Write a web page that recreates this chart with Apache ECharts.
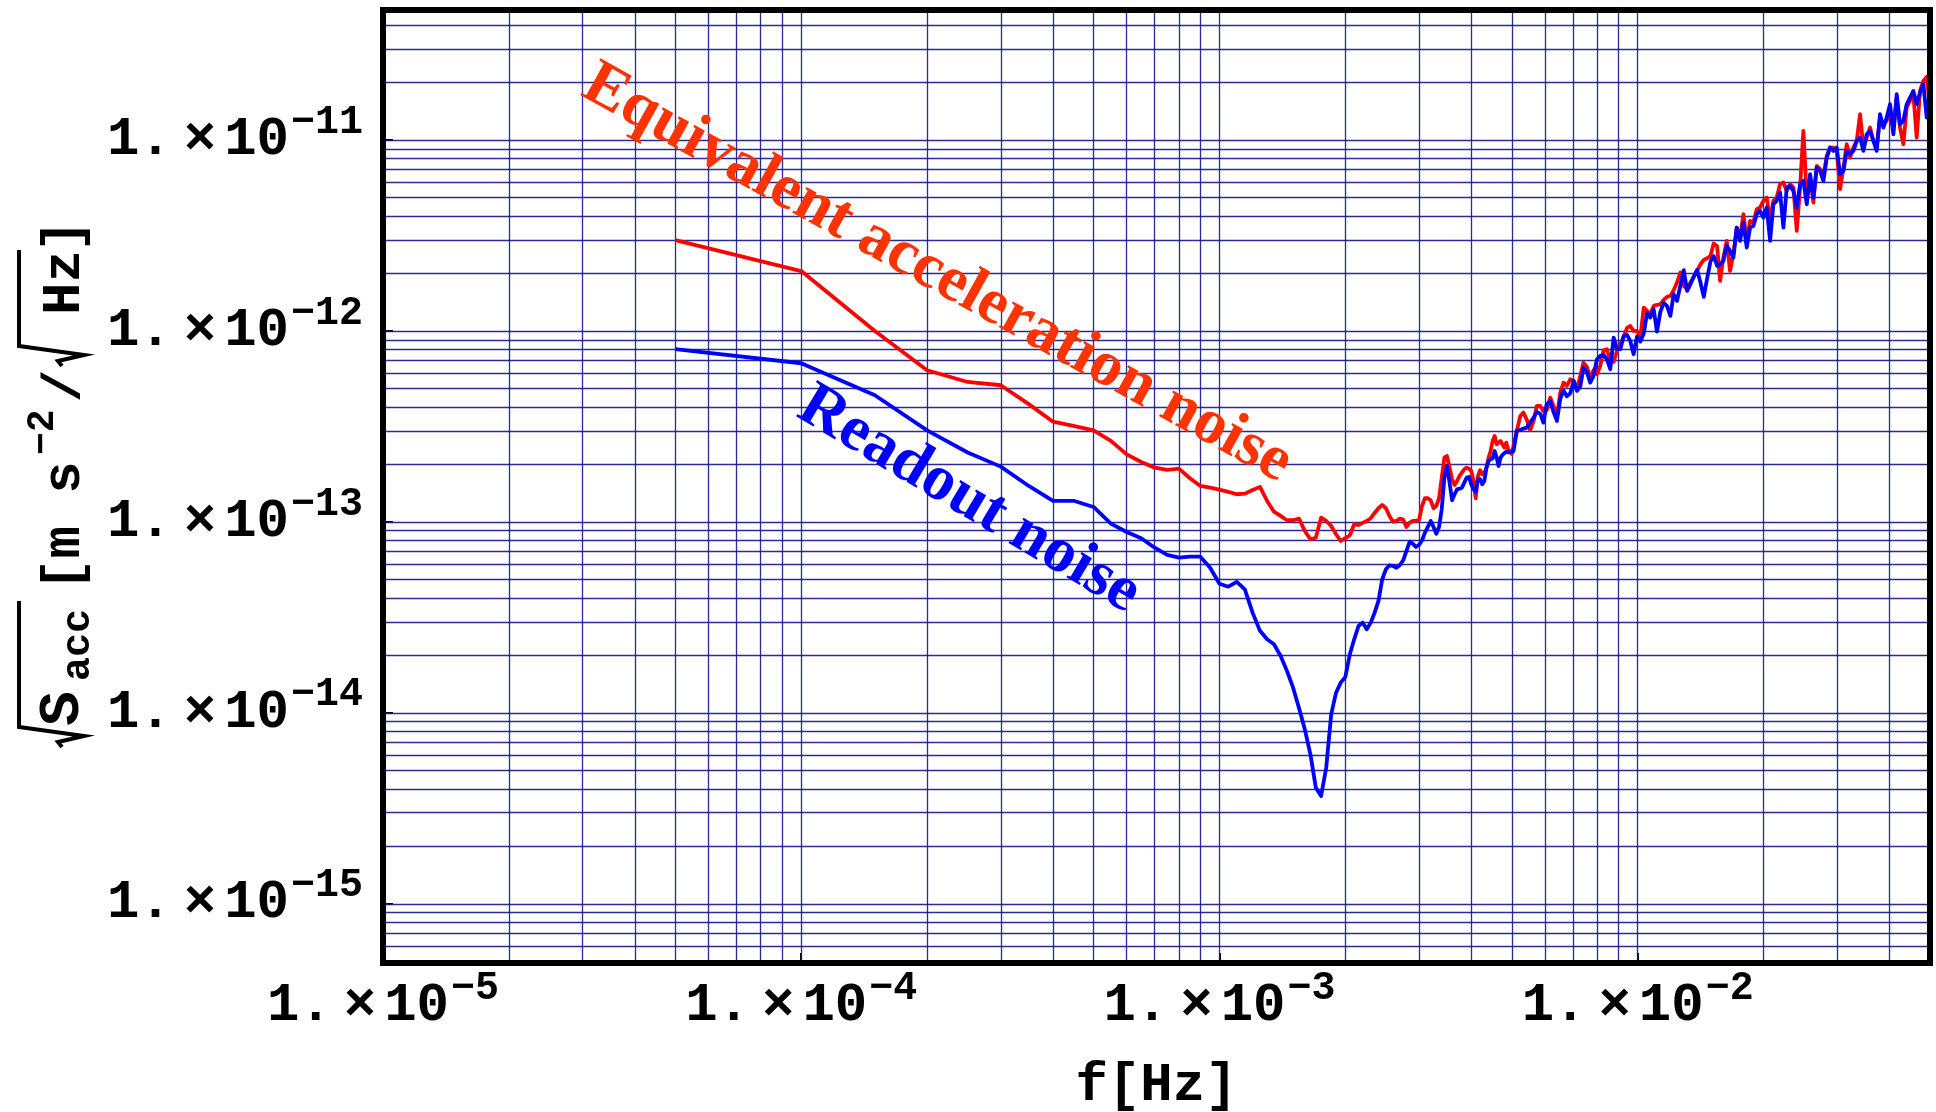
<!DOCTYPE html>
<html>
<head>
<meta charset="utf-8">
<title>Acceleration noise spectrum</title>
<script src="https://cdn.jsdelivr.net/npm/echarts@6/dist/echarts.min.js"></script>
<style>
  html, body { margin: 0; padding: 0; background: #ffffff; }
  #chart { width: 1936px; height: 1112px; }
</style>
</head>
<body>
<div id="chart"></div>
<script>
// Frequencies in mHz; amplitudes in units of 1e-13 m s^-2 / sqrt(Hz).
// Low band: 0.05 mHz frequency bins up to 5 mHz.
const freqLow = [
  0.05, 0.10, 0.15, 0.20, 0.25, 0.30, 0.35, 0.40, 0.45, 0.50,
  0.55, 0.60, 0.65, 0.70, 0.75, 0.80, 0.85, 0.90, 0.95, 1.00,
  1.05, 1.10, 1.15, 1.20, 1.25, 1.30, 1.35, 1.40, 1.45, 1.50,
  1.55, 1.60, 1.65, 1.70, 1.75, 1.80, 1.85, 1.90, 1.95, 2.00,
  2.05, 2.10, 2.15, 2.20, 2.25, 2.30, 2.35, 2.40, 2.45, 2.50,
  2.55, 2.60, 2.65, 2.70, 2.75, 2.80, 2.85, 2.90, 2.95, 3.00,
  3.05, 3.10, 3.15, 3.20, 3.25, 3.30, 3.35, 3.40, 3.45, 3.50,
  3.55, 3.60, 3.65, 3.70, 3.75, 3.80, 3.85, 3.90, 3.95, 4.00,
  4.05, 4.10, 4.15, 4.20, 4.25, 4.30, 4.35, 4.40, 4.45, 4.50,
  4.55, 4.60, 4.65, 4.70, 4.75, 4.80, 4.85, 4.90, 4.95, 5.00
];
const accelLow = [
  29.9, 20.6, 10.0, 6.23, 5.41, 5.20, 4.14, 3.35, 3.18, 3.02,
  2.66, 2.26, 2.06, 1.925, 1.873, 1.902, 1.694, 1.544, 1.512, 1.476,
  1.436, 1.397, 1.407, 1.471, 1.525, 1.288, 1.132, 1.075, 1.021, 1.021,
  1.041, 0.897, 0.812, 0.827, 1.053, 1.012, 0.953, 0.862, 0.795, 0.822,
  0.852, 0.973, 0.964, 0.989, 1.012, 1.046, 1.115, 1.180, 1.228, 1.180,
  1.075, 1.004, 1.012, 1.041, 1.028, 0.942, 0.992, 1.012, 1.012, 1.021,
  1.213, 1.331, 1.331, 1.299, 1.180, 1.213, 1.331, 1.706, 2.172, 2.216,
  1.925, 1.674, 1.563, 1.640, 1.742, 1.813, 1.888, 1.925, 1.902, 1.850,
  1.640, 1.331, 1.742, 1.866, 1.778, 1.813, 1.925, 2.172, 2.354, 2.657,
  2.822, 2.553, 2.603, 2.657, 2.553, 2.450, 2.603, 2.403, 2.354, 2.271
];
const readoutLow = [
  8.03, 6.78, 4.61, 3.02, 2.31, 1.949, 1.544, 1.288, 1.288, 1.198,
  0.980, 0.886, 0.822, 0.733, 0.672, 0.650, 0.658, 0.658, 0.576, 0.475,
  0.458, 0.485, 0.444, 0.335, 0.269, 0.243, 0.229, 0.199, 0.166, 0.1355,
  0.1057, 0.0820, 0.0607, 0.0406, 0.0367, 0.0516, 0.0983, 0.1276, 0.144, 0.1542,
  0.2028, 0.243, 0.285, 0.297, 0.274, 0.297, 0.335, 0.386, 0.501, 0.565,
  0.593, 0.588, 0.576, 0.595, 0.630, 0.705, 0.789, 0.770, 0.740, 0.758,
  0.802, 0.879, 0.942, 1.012, 0.942, 0.868, 0.942, 1.166, 1.706, 1.965,
  1.606, 1.299, 1.397, 1.483, 1.494, 1.512, 1.606, 1.706, 1.721, 1.576,
  1.483, 1.441, 1.674, 1.674, 1.576, 1.640, 1.925, 2.087, 2.130, 2.156,
  2.354, 2.172, 1.965, 2.172, 2.244, 2.260, 2.335, 2.307, 2.310, 2.360
];

// High band: 5 mHz to 50 mHz.
const freqHigh = [
  5.05, 5.14, 5.24, 5.33, 5.43, 5.53, 5.64, 5.74, 5.85, 5.95,
  6.06, 6.18, 6.29, 6.41, 6.53, 6.65, 6.77, 6.90, 7.03, 7.16,
  7.29, 7.42, 7.56, 7.70, 7.84, 7.99, 8.14, 8.29, 8.44, 8.60,
  8.76, 8.92, 9.09, 9.26, 9.43, 9.60, 9.78, 9.96, 10.15, 10.34,
  10.53, 10.72, 10.92, 11.12, 11.33, 11.54, 11.75, 11.97, 12.19, 12.42,
  12.65, 12.89, 13.13, 13.37, 13.62, 13.87, 14.13, 14.39, 14.66, 14.93,
  15.20, 15.49, 15.74, 16.03, 16.33, 16.63, 16.94, 17.25, 17.57, 17.90,
  18.23, 18.57, 18.91, 19.26, 19.62, 19.98, 20.35, 20.73, 21.11, 21.50,
  21.90, 22.31, 22.72, 23.14, 23.57, 24.01, 24.45, 24.90, 25.37, 25.84,
  26.31, 26.80, 27.30, 27.80, 28.32, 28.84, 29.37, 29.92, 30.47, 31.04,
  31.61, 32.20, 32.79, 33.40, 34.02, 34.65, 35.29, 35.94, 36.61, 37.28,
  37.97, 38.68, 39.39, 40.12, 40.87, 41.62, 42.39, 43.18, 43.98, 44.79,
  45.62, 46.47, 47.33, 48.21, 49.10, 50.00
];
const accelHigh = [
  2.262, 2.997, 3.592, 3.739, 3.437, 3.021, 3.381, 4.052, 4.052, 3.815,
  3.846, 4.480, 4.052, 3.520, 4.758, 5.370, 5.158, 5.590, 5.479, 4.955,
  5.818, 6.832, 6.486, 5.703, 6.231, 5.936, 6.564, 7.930, 8.026, 6.916,
  6.888, 7.866, 8.522, 9.351, 10.38, 10.63, 10.01, 10.01, 9.24, 13.27,
  12.75, 12.24, 13.54, 13.70, 13.81, 14.55, 15.09, 15.27, 16.35, 17.94,
  20.24, 17.23, 16.55, 17.94, 19.20, 20.64, 22.37, 23.57, 24.06, 24.75,
  28.71, 27.80, 18.30, 24.25, 29.65, 20.64, 25.24, 34.81, 30.86, 40.90,
  29.65, 37.74, 36.98, 43.45, 44.33, 48.03, 50.00, 37.74, 48.03, 50.00,
  58.73, 59.93, 54.20, 58.73, 56.42, 33.44, 56.42, 111.7, 50.00, 63.65,
  47.08, 73.26, 70.37, 63.65, 82.66, 91.40, 91.40, 87.79, 55.30, 71.80,
  95.15, 81.01, 91.40, 99.04, 136.6, 91.40, 103.1, 116.3, 99.04, 91.40,
  131.2, 121.1, 126.1, 148.1, 111.7, 167.1, 116.3, 95.15, 148.1, 160.5,
  173.9, 103.1, 181.0, 204.2, 214.3, 148.1
];
const readoutHigh = [
  2.355, 2.997, 3.033, 3.083, 3.120, 3.314, 3.520, 3.769, 3.694, 3.314,
  4.134, 4.303, 3.769, 3.381, 4.427, 4.875, 4.553, 4.721, 5.479, 4.856,
  5.117, 6.434, 6.107, 5.370, 5.818, 7.113, 7.405, 7.494, 7.113, 6.307,
  9.24, 8.091, 8.026, 9.426, 9.541, 8.875, 7.555, 9.351, 8.804, 9.696,
  12.39, 11.76, 13.00, 9.93, 12.59, 14.04, 13.54, 12.00, 15.58, 14.38,
  17.30, 20.82, 16.22, 17.58, 19.28, 20.90, 17.94, 15.09, 18.90, 23.10,
  24.64, 21.93, 22.37, 23.29, 27.92, 26.28, 24.25, 34.81, 29.65, 36.98,
  27.36, 34.81, 35.52, 40.90, 42.58, 39.29, 44.33, 29.65, 46.14, 48.03,
  53.12, 34.81, 56.42, 57.56, 54.20, 44.33, 58.73, 61.15, 46.14, 66.26,
  50.00, 71.80, 68.98, 61.15, 81.01, 91.40, 87.79, 91.40, 66.26, 68.98,
  87.79, 84.33, 87.79, 99.04, 103.1, 87.79, 107.3, 111.7, 99.04, 87.79,
  136.6, 116.3, 131.2, 154.1, 107.3, 173.9, 121.1, 126.1, 154.1, 167.1,
  181.0, 154.1, 177.5, 196.2, 131.2, 160.5
];

// Axis ranges (Hz and m s^-2/sqrt(Hz)) and log grid structure.
const xRange = [1e-5, 0.05];
const yRange = [4.9e-16, 4.8e-11];
const xDecades = [-5, -4, -3, -2];
const yDecades = [-16, -15, -14, -13, -12, -11];
const gridMantissas = [1, 2, 3, 4, 5, 6, 7, 8, 9];

// Plot frame placement in pixels.
const frame = { left: 383, top: 10, width: 1547, height: 953 };

const MHZ = 1e-3;
const UNIT = 1e-13;
function toPairs(freqs, vals) {
  return freqs.map((f, i) => [f * MHZ, vals[i] * UNIT]);
}
const accelData = toPairs(freqLow, accelLow).concat(toPairs(freqHigh, accelHigh));
const readoutData = toPairs(freqLow, readoutLow).concat(toPairs(freqHigh, readoutHigh));

function gridValues(decades, range) {
  const out = [];
  decades.forEach(d => gridMantissas.forEach(m => {
    const v = m * Math.pow(10, d);
    if (v > range[0] * 1.0001 && v < range[1] * 0.9999) out.push(v);
  }));
  return out;
}
// Grid segments spanning the full plot range, one per log grid value.
const gridSegments = gridValues(xDecades, xRange).map(v => ({ coords: [[v, yRange[0]], [v, yRange[1]]] }))
  .concat(gridValues(yDecades, yRange).map(v => ({ coords: [[xRange[0], v], [xRange[1], v]] })));

const monoFont = '"Liberation Mono", "DejaVu Sans Mono", monospace';
const serifFont = '"Liberation Serif", "DejaVu Serif", serif';

const tickRich = {
  a: { fontFamily: monoFont, fontWeight: 'bold', fontSize: 54, lineHeight: 60, color: '#000' },
  x: { fontFamily: monoFont, fontWeight: 'bold', fontSize: 54, lineHeight: 60, color: '#000', padding: [0, 8, 0, 12] },
  b: { fontFamily: monoFont, fontWeight: 'bold', fontSize: 54, lineHeight: 60, color: '#000' },
  e: { fontFamily: monoFont, fontWeight: 'bold', fontSize: 40, lineHeight: 44, color: '#000', padding: [0, 0, 35, 2] }
};

function sciLabel(v) {
  const lg = Math.log10(v);
  const e = Math.round(lg);
  if (Math.abs(lg - e) > 1e-6) return '';
  return '{a|1.}{x|×}{b|10}{e|\u2212' + (-e) + '}';
}

const tickStyle = { show: true, inside: true, length: 10, lineStyle: { color: '#000', width: 2 } };

const chart = echarts.init(document.getElementById('chart'), null, { renderer: 'canvas' });

const titleFontSize = 54;
const subFontSize = 40;
const supFontSize = 38;
const radicalStyle = { stroke: '#000', lineWidth: 4, fill: 'none', lineJoin: 'miter' };
function titleText(text, x, y, size) {
  return {
    type: 'text', x: x, y: y,
    style: { text: text, fontFamily: monoFont, fontWeight: 'bold', fontSize: size,
             fill: '#000', align: 'left', verticalAlign: 'middle' }
  };
}

chart.setOption({
  animation: false,
  backgroundColor: '#ffffff',
  grid: { left: frame.left, top: frame.top, width: frame.width, height: frame.height, show: false },
  xAxis: {
    type: 'log', logBase: 10, min: xRange[0], max: xRange[1],
    axisLine: { show: false },
    axisTick: tickStyle,
    axisLabel: { formatter: sciLabel, rich: tickRich, margin: 13, color: '#000' },
    splitLine: { show: false }
  },
  yAxis: {
    type: 'log', logBase: 10, min: yRange[0], max: yRange[1],
    axisLine: { show: false },
    axisTick: tickStyle,
    axisLabel: { formatter: sciLabel, rich: tickRich, margin: 20, color: '#000' },
    splitLine: { show: false }
  },
  series: [
    {
      name: 'grid', type: 'lines', coordinateSystem: 'cartesian2d', z: 1, silent: true,
      polyline: false, animation: false,
      lineStyle: { color: 'rgb(20,20,140)', width: 1.3, opacity: 0.9, curveness: 0 },
      data: gridSegments
    },
    {
      name: 'Equivalent acceleration noise', type: 'line', data: accelData, z: 3,
      showSymbol: false, symbol: 'none',
      lineStyle: { color: '#ff0000', width: 3.8, join: 'round' },
      itemStyle: { color: '#ff0000' }
    },
    {
      name: 'Readout noise', type: 'line', data: readoutData, z: 4,
      showSymbol: false, symbol: 'none',
      lineStyle: { color: '#0000ff', width: 3.8, join: 'round' },
      itemStyle: { color: '#0000ff' }
    }
  ],
  graphic: [
    {
      type: 'rect', z: 40, silent: true,
      shape: { x: frame.left, y: frame.top, width: frame.width, height: frame.height },
      style: { fill: 'none', stroke: '#000', lineWidth: 6 }
    },
    {
      type: 'text', z: 50, x: 937, y: 274, rotation: -29.0 * Math.PI / 180,
      style: { text: 'Equivalent acceleration noise', fontFamily: serifFont, fontWeight: 'bold',
               fontSize: 64, fill: '#ff3300', align: 'center', verticalAlign: 'middle' }
    },
    {
      type: 'text', z: 50, x: 969, y: 500, rotation: -30.8 * Math.PI / 180,
      style: { text: 'Readout noise', fontFamily: serifFont, fontWeight: 'bold',
               fontSize: 64, fill: '#0000ff', align: 'center', verticalAlign: 'middle' }
    },
    {
      type: 'text', z: 50, x: frame.left + frame.width / 2, y: 1086,
      style: { text: 'f[Hz]', fontFamily: monoFont, fontWeight: 'bold', fontSize: titleFontSize,
               fill: '#000', align: 'center', verticalAlign: 'middle' }
    },
    {
      type: 'group', z: 50, x: 79, y: 747, rotation: Math.PI / 2,
      children: [
        { type: 'polyline', shape: { points: [[0, -17], [5, -21], [11, 5], [20, -60], [146, -60]] }, style: radicalStyle },
        titleText('S', 21, -16, 58),
        titleText('acc', 66, 0, subFontSize),
        titleText('[m s', 156, -14, titleFontSize),
        titleText('\u22122', 292, -36, supFontSize),
        titleText('/', 345, -14, titleFontSize),
        { type: 'polyline', shape: { points: [[381, -17], [386, -21], [392, 5], [401, -60], [497, -60]] }, style: radicalStyle },
        titleText('Hz', 432, -14, titleFontSize),
        titleText(']', 495, -14, titleFontSize)
      ]
    }
  ]
});
</script>
</body>
</html>
